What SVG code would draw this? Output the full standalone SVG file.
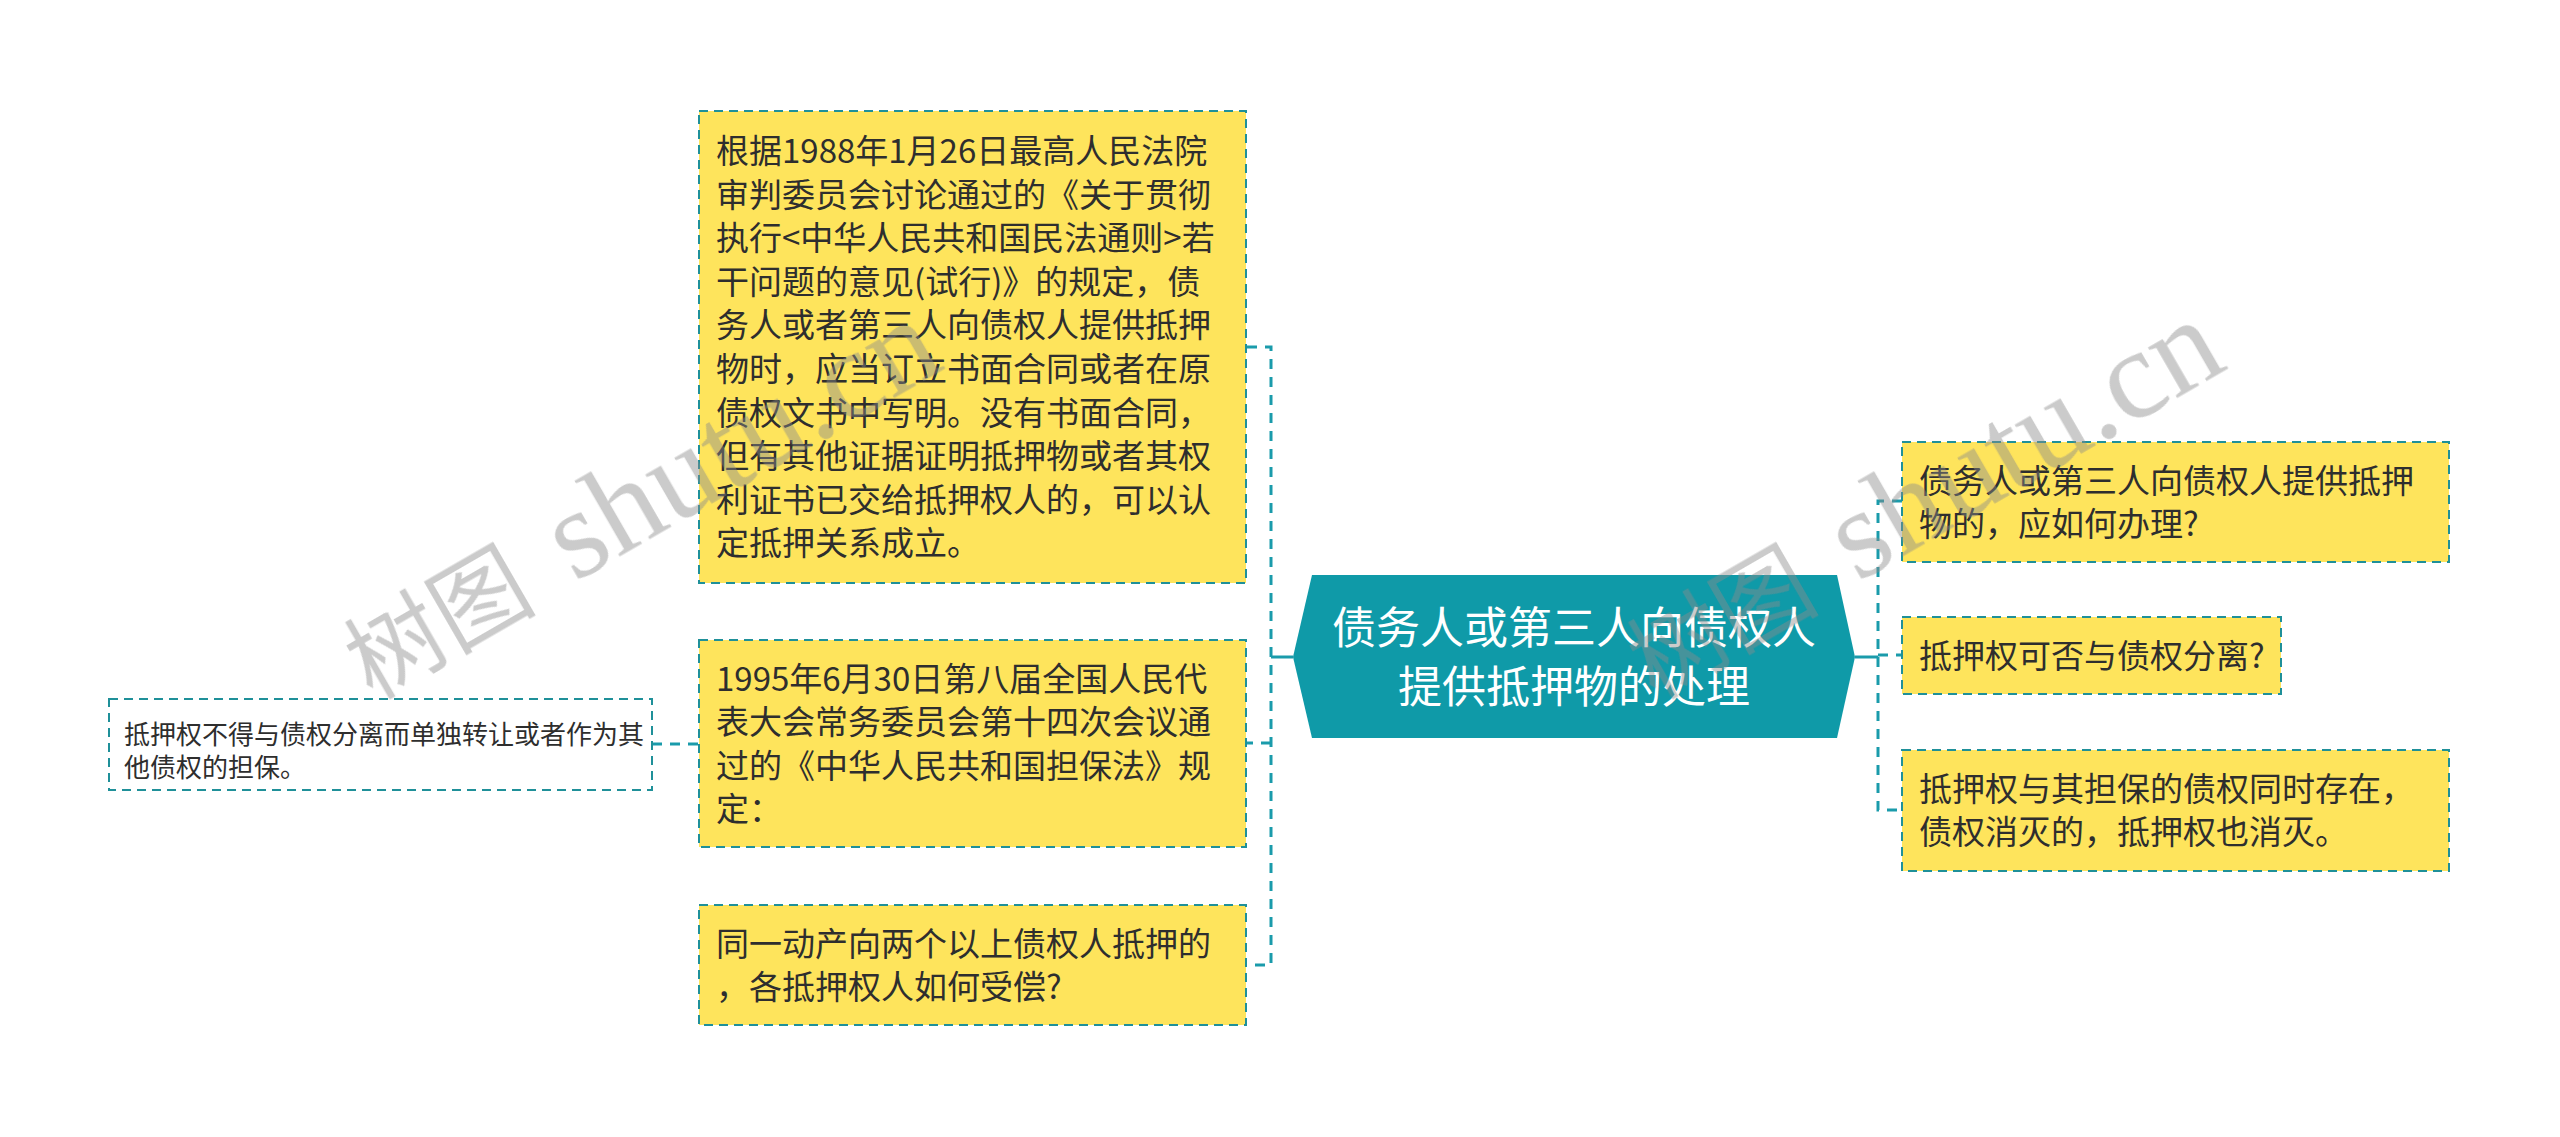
<svg xmlns="http://www.w3.org/2000/svg" width="2560" height="1137" viewBox="0 0 2560 1137">
  <style>
    .box { fill: #fee45c; stroke: #1f9099; stroke-width: 2; stroke-dasharray: 9 6; }
    .boxw { fill: #ffffff; stroke: #1f9099; stroke-width: 2; stroke-dasharray: 9 6; }
    .t { font-family: "Noto Sans CJK SC", "Noto Sans", sans-serif; fill: #2e2e2e; }
    .t33 { font-size: 33px; }
    .t26 { font-size: 26px; }
    .ct { font-family: "Noto Sans CJK SC", "Noto Sans", sans-serif; font-size: 44px; fill: #ffffff; text-anchor: middle; }
    .solid { fill: none; stroke: #1a9bab; stroke-width: 3; }
    .dash { fill: none; stroke: #1a9bab; stroke-width: 3; stroke-dasharray: 10 8; }
    .wm { fill: #8c8c8c; opacity: 0.45; }
  </style>

  <g id="connectors">
    <path class="solid" d="M1293,657 H1271"/>
    <path class="dash" d="M1247,347 H1271 V965 H1247"/>
    <path class="dash" d="M1271,743 H1247"/>
    <path class="solid" d="M1855,657 H1878"/>
    <path class="dash" d="M1902,501 H1878 V810 H1902"/>
    <path class="dash" d="M1878,655 H1902"/>
    <path class="dash" d="M652,744 H699"/>
  </g>

  <g id="center">
    <polygon points="1312,575 1837,575 1855,657 1837,738 1312,738 1293,657" fill="#0f9aa8"/>
    <text class="ct" x="1574" y="644">债务人或第三人向债权人</text>
    <text class="ct" x="1574" y="703">提供抵押物的处理</text>
  </g>

  <g id="node-a">
    <rect class="box" x="699" y="111" width="547" height="472"/>
    <text class="t t33">
      <tspan x="716" y="163">根据1988年1月26日最高人民法院</tspan>
      <tspan x="716" y="206.6">审判委员会讨论通过的《关于贯彻</tspan>
      <tspan x="716" y="250.2">执行&lt;中华人民共和国民法通则&gt;若</tspan>
      <tspan x="716" y="293.8">干问题的意见(试行)》的规定，债</tspan>
      <tspan x="716" y="337.4">务人或者第三人向债权人提供抵押</tspan>
      <tspan x="716" y="381">物时，应当订立书面合同或者在原</tspan>
      <tspan x="716" y="424.6">债权文书中写明。没有书面合同，</tspan>
      <tspan x="716" y="468.2">但有其他证据证明抵押物或者其权</tspan>
      <tspan x="716" y="511.8">利证书已交给抵押权人的，可以认</tspan>
      <tspan x="716" y="555.4">定抵押关系成立。</tspan>
    </text>
  </g>

  <g id="node-b">
    <rect class="box" x="699" y="640" width="547" height="207"/>
    <text class="t t33">
      <tspan x="716" y="690.5">1995年6月30日第八届全国人民代</tspan>
      <tspan x="716" y="734.1">表大会常务委员会第十四次会议通</tspan>
      <tspan x="716" y="777.7">过的《中华人民共和国担保法》规</tspan>
      <tspan x="716" y="821.3">定：</tspan>
    </text>
  </g>

  <g id="node-c">
    <rect class="box" x="699" y="905" width="547" height="120"/>
    <text class="t t33">
      <tspan x="716" y="955.6">同一动产向两个以上债权人抵押的</tspan>
      <tspan x="716" y="999.2">，各抵押权人如何受偿?</tspan>
    </text>
  </g>

  <g id="node-d">
    <rect class="boxw" x="109" y="699" width="543" height="91"/>
    <text class="t t26">
      <tspan x="124" y="744">抵押权不得与债权分离而单独转让或者作为其</tspan>
      <tspan x="124" y="777">他债权的担保。</tspan>
    </text>
  </g>

  <g id="node-r1">
    <rect class="box" x="1902" y="442" width="547" height="120"/>
    <text class="t t33">
      <tspan x="1919" y="492.6">债务人或第三人向债权人提供抵押</tspan>
      <tspan x="1919" y="536.2">物的，应如何办理?</tspan>
    </text>
  </g>

  <g id="node-r2">
    <rect class="box" x="1902" y="617" width="379" height="77"/>
    <text class="t t33" x="1919" y="668">抵押权可否与债权分离?</text>
  </g>

  <g id="node-r3">
    <rect class="box" x="1902" y="750" width="547" height="121"/>
    <text class="t t33">
      <tspan x="1919" y="800.7">抵押权与其担保的债权同时存在，</tspan>
      <tspan x="1919" y="844.3">债权消灭的，抵押权也消灭。</tspan>
    </text>
  </g>

  <g id="watermarks" class="wm">
    <g transform="translate(372,700) rotate(-30)">
      <text x="0" y="0" font-family="Noto Sans CJK SC, sans-serif" font-size="96">树图</text>
      <text x="234" y="0" font-family="Liberation Serif, serif" font-size="128">shutu.cn</text>
    </g>
    <g transform="translate(1655,700) rotate(-30)">
      <text x="0" y="0" font-family="Noto Sans CJK SC, sans-serif" font-size="96">树图</text>
      <text x="234" y="0" font-family="Liberation Serif, serif" font-size="128">shutu.cn</text>
    </g>
  </g>
</svg>
